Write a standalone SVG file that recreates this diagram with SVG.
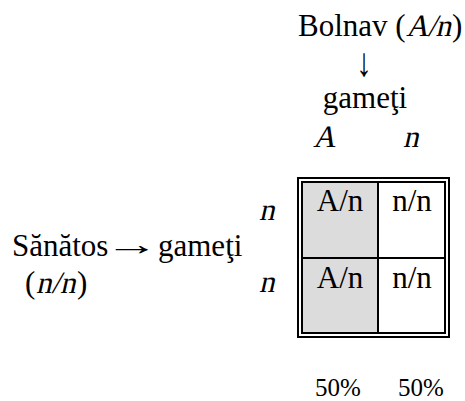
<svg xmlns="http://www.w3.org/2000/svg" width="465" height="401" viewBox="0 0 465 401">
<style>
text{font-family:"Liberation Serif","Times New Roman",serif;font-size:31px;fill:#000}
.c{text-anchor:middle}
.p{font-size:25px}
.ln{stroke:#000;stroke-width:2;fill:none}
</style>
<rect width="465" height="401" fill="#fff"/>
<g id="bolnav">
<text x="298" y="36">Bolnav (</text>
<text transform="translate(406,36) skewX(-13)" x="0" y="0" textLength="45">A/n</text>
<text x="452" y="36">)</text>
<text class="c" transform="translate(364,76) scale(1,1.3)" x="0" y="0">↓</text>
<text class="c" x="365" y="108">gameţi</text>
<text transform="translate(313,147) skewX(-13)" x="0" y="0">A</text>
<text transform="translate(403,147) skewX(-13)" x="0" y="0">n</text>
</g>
<g id="sanatos">
<text x="12" y="256">Sănătos</text>
<text class="c" transform="translate(132,255) scale(1.75,1)" x="0" y="0">→</text>
<text x="158" y="256">gameţi</text>
<text x="25" y="293">(</text>
<text transform="translate(36,293) skewX(-13)" x="0" y="0">n/n</text>
<text x="77" y="293">)</text>
<text transform="translate(259,220) skewX(-13)" x="0" y="0">n</text>
<text transform="translate(259,292) skewX(-13)" x="0" y="0">n</text>
</g>
<g id="table">
<rect x="303" y="183" width="75" height="150" fill="#dcdcdc"/>
<rect class="ln" x="298" y="178" width="151" height="159"/>
<rect class="ln" x="302" y="182" width="143" height="151"/>
<line class="ln" x1="378" y1="182" x2="378" y2="333"/>
<line class="ln" x1="302" y1="258" x2="445" y2="258"/>
<text class="c" x="340" y="211">A/n</text>
<text class="c" x="412" y="211">n/n</text>
<text class="c" x="340" y="288">A/n</text>
<text class="c" x="412" y="288">n/n</text>
</g>
<g id="percent">
<text class="p" x="315" y="396">50%</text>
<text class="p" x="398" y="396">50%</text>
</g>
<g id="connectors"></g>
</svg>
